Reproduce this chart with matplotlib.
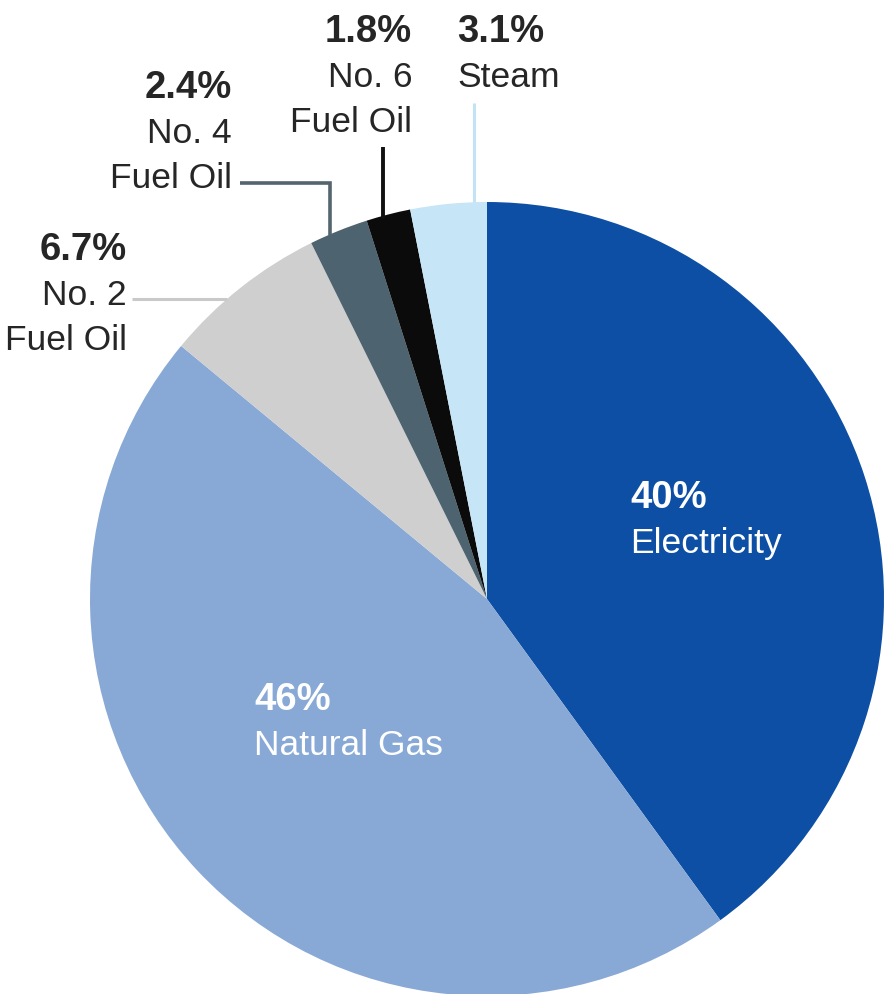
import numpy as np
import matplotlib
matplotlib.use("Agg")
import matplotlib.pyplot as plt

plt.rcParams["font.family"] = ["Liberation Sans", "DejaVu Sans"]

# energy share by source, clockwise from 12 o'clock
sources = ["Electricity", "Natural Gas", "No. 2\nFuel Oil", "No. 4\nFuel Oil",
           "No. 6\nFuel Oil", "Steam"]
shares = [40, 46, 6.7, 2.4, 1.8, 3.1]
pct_labels = ["40%", "46%", "6.7%", "2.4%", "1.8%", "3.1%"]
colors = ["#0c4fa5", "#88a9d5", "#cfcfcf", "#4d6470", "#0b0b0b", "#c6e6f8"]
line_colors = [None, None, "#c9c9c9", "#55656e", "#111111", "#c3e2f4"]
# where along each small wedge (0 = clockwise start) the leader line touches
anchor_frac = [None, None, 0.39, 0.35, 0.39, 0.83]

W, H = 884, 994
cx, cy, R = 487, H - 599, 397

fig = plt.figure(figsize=(W / 100, H / 100), dpi=100)
ax = fig.add_axes([0, 0, 1, 1])
ax.pie(shares, colors=colors, startangle=90, counterclock=False,
       center=(cx, cy), radius=R, wedgeprops=dict(linewidth=0))
ax.set_xlim(0, W)
ax.set_ylim(0, H)
ax.set_aspect("equal")
ax.axis("off")


def edge_point(i):
    """Point on the pie rim inside wedge i."""
    total = sum(shares)
    before = sum(shares[:i]) / total
    pos = before + anchor_frac[i] * shares[i] / total
    ang = np.deg2rad(90 - 360 * pos)
    return cx + R * np.cos(ang), cy + R * np.sin(ang)


fs = 25.5
fs_bold = 27.5
dark = "#262626"
lh = 45.5  # line height in px


def label(x, y_top, i, ha, color=dark):
    """Bold percentage followed by the source name, one row per line."""
    ax.text(x, H - y_top, pct_labels[i], ha=ha, va="center", fontsize=fs_bold,
            fontweight="bold", color=color)
    for k, row in enumerate(sources[i].split("\n")):
        ax.text(x, H - y_top - lh * (k + 1), row, ha=ha, va="center",
                fontsize=fs, color=color)


# labels inside the two big wedges
label(630, 498, 0, "left", color="white")
label(254, 700, 1, "left", color="white")

# outside labels
label(127, 250, 2, "right")
label(232, 88, 3, "right")
label(412, 32, 4, "right")
label(457, 32, 5, "left")

# leader lines
x2, y2 = edge_point(2)
ax.plot([132, x2], [y2, y2], color=line_colors[2], lw=2.2, solid_capstyle="butt")

x3, y3 = edge_point(3)
ax.plot([240, x3, x3], [H - 183, H - 183, y3 - 1], color=line_colors[3], lw=2.6,
        solid_joinstyle="miter", solid_capstyle="butt")

x4, y4 = edge_point(4)
ax.plot([x4, x4], [H - 147, y4 - 3], color=line_colors[4], lw=2.8,
        solid_capstyle="butt")

x5, y5 = edge_point(5)
ax.plot([x5, x5], [H - 103, y5], color=line_colors[5], lw=2.2,
        solid_capstyle="butt")

fig.savefig("out.png", dpi=100)
